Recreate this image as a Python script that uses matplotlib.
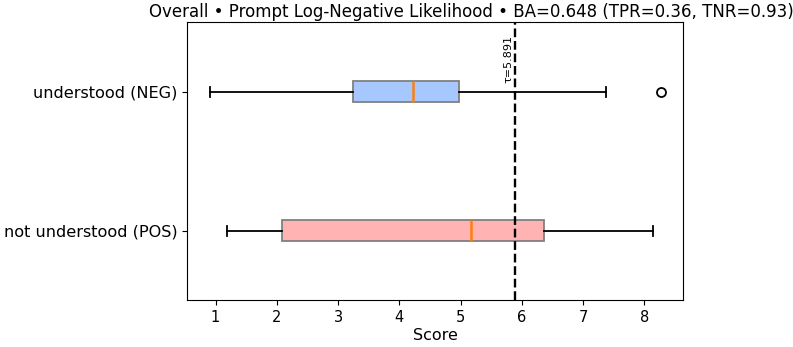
import numpy as np
import matplotlib
matplotlib.use("Agg")
import matplotlib.pyplot as plt
import matplotlib.transforms as mtransforms

# box stats
labels = ["not understood (POS)", "understood (NEG)"]
whislo = [1.19, 0.91]
q1 = [2.09, 3.25]
med = [5.17, 4.22]
q3 = [6.36, 4.98]
whishi = [8.15, 7.37]
fliers = [[], [8.27]]
box_colors = ["#ffb3b3", "#a6c8ff"]

threshold = 5.891
title = "Overall \u2022 Prompt Log-Negative Likelihood \u2022 BA=0.648 (TPR=0.36, TNR=0.93)"


def make_stats():
    stats = []
    for i in range(len(labels)):
        stats.append({
            "label": labels[i],
            "whislo": whislo[i],
            "q1": q1[i],
            "med": med[i],
            "q3": q3[i],
            "whishi": whishi[i],
            "fliers": fliers[i],
        })
    return stats


fig = plt.figure(figsize=(7.93, 3.47), dpi=100)
ax = fig.add_axes([0.2364, 0.1346, 0.6253, 0.8011])

bp = ax.bxp(make_stats(), vert=False, patch_artist=True, widths=0.15,
            boxprops=dict(edgecolor="gray", linewidth=1.3),
            whiskerprops=dict(linewidth=1.3),
            capprops=dict(linewidth=1.3),
            flierprops=dict(markeredgewidth=1.3, markersize=6.5),
            medianprops=dict(color="#ff7f0e", linewidth=1.8))
for patch, c in zip(bp["boxes"], box_colors):
    patch.set_facecolor(c)

ax.axvline(threshold, color="black", linestyle="--", linewidth=1.7)
trans = mtransforms.blended_transform_factory(ax.transData, ax.transAxes)
ax.text(threshold - 0.02, 0.955, "\u03c4={:.3f}".format(threshold), transform=trans,
        rotation=90, ha="right", va="top", fontsize=8)

ax.set_xlabel("Score", fontsize=11.5, labelpad=2)
ax.tick_params(axis="y", labelsize=11.6)
ax.tick_params(axis="x", labelsize=10.5)
fig.text(0.594, 0.965, title, ha="center", va="center", fontsize=12)

fig.savefig("out.png", dpi=100)
